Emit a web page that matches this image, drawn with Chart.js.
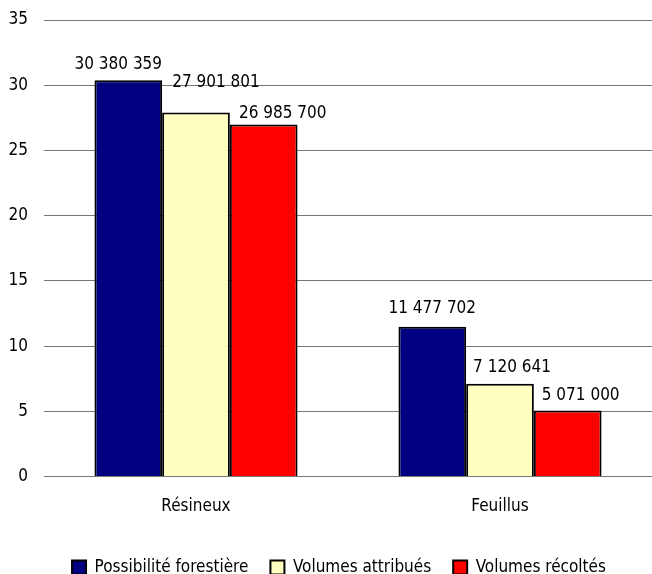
<!doctype html>
<html>

<head>
    <title>Possibilité forestière et volumes</title>
    <script src="https://cdn.jsdelivr.net/npm/chart.js"></script>
    <style>
        body { margin: 0; background: #fff; }
        #boite { width: 652px; height: 574px; }
    </style>
</head>

<body>
    <div id="boite">
        <canvas id="graphique"></canvas>
    </div>

    <script>
        var categories = ['Résineux', 'Feuillus'];
        var possibilite = [30380359, 11477702];
        var attribues = [27901801, 7120641];
        var recoltes = [26985700, 5071000];
        var yTicks = [0, 5, 10, 15, 20, 25, 30, 35];

        var police = "'DejaVu Sans Condensed', 'Liberation Sans', sans-serif";
        var taille = 17;

        // petits decalages des etiquettes, comme dans l'original
        var decalages = [
            [[-10, 11], [0, 14]],
            [[20, 26], [12, 12]],
            [[19, 7], [13, 10]]
        ];

        function formater(v) {
            return String(v).replace(/\B(?=(\d{3})+(?!\d))/g, ' ');
        }

        function enMillions(arr) {
            return arr.map(v => v / 1000000);
        }

        var etiquettes = {
            id: 'etiquettes',
            afterLayout(chart) {
                // la legende de l'original est un peu a droite du centre
                chart.legend.left += 18;
            },
            afterDatasetsDraw(chart) {
                var ctx = chart.ctx;
                var bruts = [possibilite, attribues, recoltes];
                ctx.save();
                ctx.font = taille + 'px ' + police;
                ctx.fillStyle = '#000';
                ctx.textAlign = 'center';
                ctx.textBaseline = 'alphabetic';
                chart.data.datasets.forEach((ds, i) => {
                    chart.getDatasetMeta(i).data.forEach((barre, j) => {
                        var d = decalages[i][j];
                        ctx.fillText(formater(bruts[i][j]), barre.x + d[0], barre.y - d[1]);
                    });
                });
                ctx.restore();
            }
        };

        new Chart(document.getElementById('graphique').getContext('2d'), {
            type: 'bar',
            data: {
                labels: categories,
                datasets: [{
                    label: 'Possibilité forestière',
                    backgroundColor: '#000080',
                    borderColor: '#000',
                    borderWidth: 2,
                    data: enMillions(possibilite)
                }, {
                    label: 'Volumes attribués',
                    backgroundColor: '#FFFFC0',
                    borderColor: '#000',
                    borderWidth: 2,
                    data: enMillions(attribues)
                }, {
                    label: 'Volumes récoltés',
                    backgroundColor: '#FF0000',
                    borderColor: '#000',
                    borderWidth: 2,
                    data: enMillions(recoltes)
                }]
            },
            options: {
                responsive: true,
                maintainAspectRatio: false,
                animation: false,
                datasets: {
                    bar: {
                        categoryPercentage: 0.668,
                        barPercentage: 1
                    }
                },
                layout: {
                    padding: { top: 20, left: 8, right: 0, bottom: -12 }
                },
                scales: {
                    x: {
                        grid: { display: false },
                        border: { display: false },
                        afterFit: (axe) => {
                            axe.height += 8;
                        },
                        ticks: {
                            color: '#000',
                            padding: 12,
                            font: { family: police, size: taille }
                        }
                    },
                    y: {
                        min: 0,
                        max: 35,
                        afterBuildTicks: (axe) => {
                            axe.ticks = yTicks.map(v => ({ value: v }));
                        },
                        afterFit: (axe) => {
                            axe.width = 36;
                            axe.paddingTop = 0;
                            axe.paddingBottom = 0;
                        },
                        grid: {
                            color: '#777',
                            lineWidth: 1,
                            drawTicks: false
                        },
                        border: { display: false },
                        ticks: {
                            color: '#000',
                            padding: 16,
                            font: { family: police, size: taille }
                        }
                    }
                },
                plugins: {
                    tooltip: { enabled: false },
                    legend: {
                        position: 'bottom',
                        labels: {
                            color: '#000',
                            boxWidth: 14,
                            boxHeight: 14,
                            padding: 22,
                            font: { family: police, size: taille }
                        }
                    }
                }
            },
            plugins: [etiquettes]
        });
    </script>
</body>

</html>
